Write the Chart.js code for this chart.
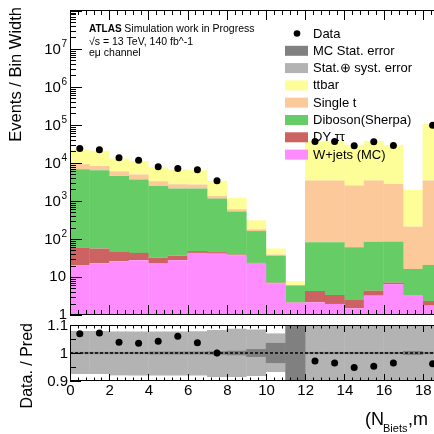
<!DOCTYPE html>
<html>
<head>
<meta charset="utf-8">
<script src="https://cdn.jsdelivr.net/npm/chart.js@4.4.0/dist/chart.umd.min.js"></script>
<style>
  html, body { margin: 0; padding: 0; background: #fff; overflow: hidden; }
  #wrap { position: relative; width: 434px; height: 434px; overflow: hidden; }
  #main { position: absolute; left: 0; top: 0; }
  #ratio { position: absolute; left: 0; top: 315px; }
</style>
</head>
<body>
<div id="wrap">
  <canvas id="main" width="480" height="330"></canvas>
  <canvas id="ratio" width="480" height="119"></canvas>
</div>
<script>
// Bin centres, one bin per unit from 0 to 19
const binCentres = [0.5, 1.5, 2.5, 3.5, 4.5, 5.5, 6.5, 7.5, 8.5, 9.5, 10.5, 11.5, 12.5, 13.5, 14.5, 15.5, 16.5, 17.5, 18.5];

// Stacked MC contributions (events / bin width)
const wjets     = [20, 23, 26, 27.6, 22.5, 27.5, 43, 41, 37, 22.5, 6.9, 2.1, 2.16, 1.95, 1.5, 3.22, 6.5, 3.22, 1.76];
const dyTauTau  = [39, 33, 21, 15.4, 9.5, 8.5, 5, 4, 2, 1, 0.2, 0.05, 2.12, 1.41, 0.98, 1.14, 0.6, 0.08, 0.57];
const diboson   = [6740, 6340, 4500, 3610, 2420, 2090, 2080, 1105, 486, 138, 29.4, 3.85, 77.7, 78.6, 58, 80.6, 77.9, 12.9, 18.4];
const singleTop = [2500, 1900, 1450, 1300, 850, 620, 570, 200, 80, 18, 2.5, 0.2, 3340, 3340, 2470, 3335, 2715, 195, 3400];
const ttbar     = [13100, 12500, 7100, 6350, 4300, 3950, 3700, 2020, 595, 130, 17, 1.5, 34480, 34480, 27270, 34480, 27000, 1740, 102600];

// Data (only filled bins)
const dataBins    = [0.5, 1.5, 2.5, 3.5, 4.5, 5.5, 6.5, 7.5, 12.5, 13.5, 14.5, 15.5, 16.5, 18.5];
const dataCounts  = [23950, 22300, 13600, 11700, 7920, 7100, 6640, 3370, 36800, 36500, 28250, 36100, 28700, 98000];
const ratioValues = [1.069, 1.071, 1.038, 1.035, 1.042, 1.06, 1.037, 1.0, 0.971, 0.964, 0.948, 0.953, 0.964, 0.962];
const ratioErrors = [0.004, 0.004, 0.005, 0.005, 0.006, 0.006, 0.006, 0.012, 0.003, 0.003, 0.003, 0.003, 0.003, 0.002];

// Ratio bands: stat (+) syst, and MC stat only
const totBandLow  = [0.925, 0.925, 0.92, 0.92, 0.92, 0.92, 0.92, 0.914, 0.914, 0.918, 0.932, 0.8, 0.8, 0.8, 0.8, 0.8, 0.8, 0.8, 0.8];
const totBandHigh = [1.079, 1.079, 1.077, 1.077, 1.077, 1.077, 1.078, 1.082, 1.087, 1.084, 1.07, 1.2, 1.2, 1.2, 1.2, 1.2, 1.2, 1.2, 1.2];
const mcStatLow   = [0.996, 0.996, 0.996, 0.996, 0.995, 0.995, 0.995, 0.994, 0.992, 0.986, 0.964, 0.85, 0.996, 0.996, 0.996, 0.996, 0.996, 0.993, 0.996];
const mcStatHigh  = [1.004, 1.004, 1.004, 1.004, 1.005, 1.005, 1.005, 1.006, 1.008, 1.014, 1.036, 1.15, 1.004, 1.004, 1.004, 1.004, 1.004, 1.007, 1.004];

// Axis ticks
const xTickLabels = [0, 2, 4, 6, 8, 10, 12, 14, 16, 18];
const yTickExponents = [0, 1, 2, 3, 4, 5, 6, 7];
const ratioTickLabels = ['0.9', '1', '1.1'];

const FONT = "'Liberation Sans', Arial, Helvetica, sans-serif";

const colours = {
    ttbar: '#fefe98',
    singleTop: '#fcca9a',
    diboson: '#66cc66',
    dy: '#cc6262',
    wjets: '#ff8cff',
    mcStat: '#808080',
    tot: '#b3b3b3'
};

function toPoints(xs, ys) {
    return xs.map((x, i) => ({ x: x, y: ys[i] }));
}

function toBand(xs, lo, hi) {
    return xs.map((x, i) => ({ x: x, y: [lo[i], hi[i]] }));
}

function barSet(label, values, colour) {
    return {
        type: 'bar',
        label: label,
        data: toPoints(binCentres, values),
        backgroundColor: colour,
        borderWidth: 0,
        barPercentage: 1.02,
        categoryPercentage: 1
    };
}

// Draw the inward ticks on the x axis (bottom and top of a panel)
function drawXTicks(ctx, xs, area, majorLen, minorLen) {
    for (let k = 0; k <= 50; k++) {
        const v = k * 0.4;
        const px = Math.round(xs.getPixelForValue(v)) + 0.5;
        const major = Math.abs(v / 2 - Math.round(v / 2)) < 1e-6;
        const len = major ? majorLen : minorLen;
        ctx.beginPath();
        ctx.moveTo(px, area.bottom);
        ctx.lineTo(px, area.bottom - len);
        ctx.moveTo(px, area.top);
        ctx.lineTo(px, area.top + len);
        ctx.stroke();
    }
}

const mainDecor = {
    id: 'mainDecor',
    afterDraw(chart) {
        const ctx = chart.ctx;
        const a = chart.chartArea;
        const xs = chart.scales.x;
        const ys = chart.scales.y;
        ctx.save();
        ctx.strokeStyle = '#000';
        ctx.lineWidth = 1;

        // frame
        ctx.beginPath();
        ctx.moveTo(a.left + 0.5, a.top);
        ctx.lineTo(a.left + 0.5, a.bottom);
        ctx.moveTo(a.left, a.top + 0.5);
        ctx.lineTo(a.right, a.top + 0.5);
        ctx.moveTo(a.left, a.bottom - 0.5);
        ctx.lineTo(a.right, a.bottom - 0.5);
        ctx.stroke();

        drawXTicks(ctx, xs, a, 10, 5);

        // log y ticks
        for (let e = 0; e <= 8; e++) {
            for (let m = 1; m <= 9; m++) {
                const v = m * Math.pow(10, e);
                if (v > ys.max) break;
                const py = Math.round(ys.getPixelForValue(v)) + 0.5;
                ctx.beginPath();
                ctx.moveTo(a.left, py);
                ctx.lineTo(a.left + (m === 1 ? 12 : 6), py);
                ctx.stroke();
            }
        }

        // y labels with superscripts
        ctx.fillStyle = '#000';
        ctx.textBaseline = 'middle';
        ctx.textAlign = 'right';
        yTickExponents.forEach(e => {
            const py = ys.getPixelForValue(Math.pow(10, e));
            if (e === 0) {
                ctx.font = '15px ' + FONT;
                ctx.fillText('1', 67, py);
            } else if (e === 1) {
                ctx.font = '15px ' + FONT;
                ctx.fillText('10', 66, py);
            } else {
                ctx.font = '10px ' + FONT;
                const sup = String(e);
                const w = ctx.measureText(sup).width;
                ctx.fillText(sup, 67, py - 5);
                ctx.font = '15px ' + FONT;
                ctx.fillText('10', 67 - w - 0.5, py + 1);
            }
        });

        // y axis title
        ctx.save();
        ctx.translate(16, 7);
        ctx.rotate(-Math.PI / 2);
        ctx.font = '16.5px ' + FONT;
        ctx.textAlign = 'right';
        ctx.textBaseline = 'middle';
        ctx.fillText('Events / Bin Width', 0, 0);
        ctx.restore();

        // ATLAS label
        ctx.textAlign = 'left';
        ctx.textBaseline = 'alphabetic';
        ctx.font = 'bold 10px ' + FONT;
        ctx.fillText('ATLAS', 89, 32);
        const aw = ctx.measureText('ATLAS ').width;
        ctx.font = '10.5px ' + FONT;
        ctx.fillText('Simulation work in Progress', 89 + aw, 32);
        ctx.fillText('\u221As = 13 TeV, 140 fb^-1', 89, 44.5);
        ctx.fillText('e\u03BC channel', 89, 56);

        // legend
        const entries = [
            ['Data', null],
            ['MC Stat. error', colours.mcStat],
            ['Stat.\u2295 syst. error', colours.tot],
            ['ttbar', colours.ttbar],
            ['Single t', colours.singleTop],
            ['Diboson(Sherpa)', colours.diboson],
            ['DY \u03C4\u03C4', colours.dy],
            ['W+jets (MC)', colours.wjets]
        ];
        ctx.font = '13px ' + FONT;
        ctx.textBaseline = 'middle';
        entries.forEach((en, i) => {
            const cy = 33.5 + i * 17.3;
            if (en[1] === null) {
                ctx.beginPath();
                ctx.arc(297, cy, 3.3, 0, Math.PI * 2);
                ctx.fill();
            } else {
                ctx.fillStyle = en[1];
                ctx.fillRect(285, cy - 5, 23, 10);
            }
            ctx.fillStyle = '#000';
            ctx.fillText(en[0], 313, cy + 0.5);
        });
        ctx.restore();
    }
};

const ratioDecor = {
    id: 'ratioDecor',
    afterDatasetsDraw(chart) {
        const ctx = chart.ctx;
        const a = chart.chartArea;
        const xs = chart.scales.x;
        const ys = chart.scales.y;
        ctx.save();
        ctx.strokeStyle = '#000';

        // dashed line at one
        const y1 = ys.getPixelForValue(1);
        ctx.setLineDash([3, 2]);
        ctx.lineWidth = 1.3;
        ctx.beginPath();
        ctx.moveTo(a.left, y1);
        ctx.lineTo(a.right, y1);
        ctx.stroke();
        ctx.setLineDash([]);
        ctx.lineWidth = 1;

        // error bars on the ratio points
        dataBins.forEach((x, i) => {
            const px = xs.getPixelForValue(x);
            ctx.beginPath();
            ctx.moveTo(px, ys.getPixelForValue(ratioValues[i] - ratioErrors[i]));
            ctx.lineTo(px, ys.getPixelForValue(ratioValues[i] + ratioErrors[i]));
            ctx.stroke();
        });
        ctx.restore();
    },
    afterDraw(chart) {
        const ctx = chart.ctx;
        const a = chart.chartArea;
        const xs = chart.scales.x;
        const ys = chart.scales.y;
        ctx.save();
        ctx.strokeStyle = '#000';
        ctx.lineWidth = 1;

        ctx.beginPath();
        ctx.moveTo(a.left + 0.5, a.top);
        ctx.lineTo(a.left + 0.5, a.bottom);
        ctx.moveTo(a.left, a.top + 0.5);
        ctx.lineTo(a.right, a.top + 0.5);
        ctx.moveTo(a.left, a.bottom - 0.5);
        ctx.lineTo(a.right, a.bottom - 0.5);
        ctx.stroke();

        drawXTicks(ctx, xs, a, 7, 3.5);

        [0.9, 0.95, 1.0, 1.05, 1.1].forEach(v => {
            const py = Math.round(ys.getPixelForValue(v)) + 0.5;
            const major = Math.abs(v * 10 - Math.round(v * 10)) < 1e-6;
            ctx.beginPath();
            ctx.moveTo(a.left, py);
            ctx.lineTo(a.left + (major ? 11 : 6), py);
            ctx.stroke();
        });

        // ratio y labels
        ctx.fillStyle = '#000';
        ctx.font = '15px ' + FONT;
        ctx.textAlign = 'right';
        ctx.textBaseline = 'middle';
        ratioTickLabels.forEach(t => {
            ctx.fillText(t, 68, ys.getPixelForValue(parseFloat(t)) + 1);
        });

        // x labels
        ctx.textAlign = 'center';
        ctx.textBaseline = 'top';
        xTickLabels.forEach(v => {
            ctx.fillText(String(v), xs.getPixelForValue(v) + 0.5, a.bottom + 2.5);
        });

        // y title
        ctx.save();
        ctx.translate(28, 8);
        ctx.rotate(-Math.PI / 2);
        ctx.font = '16px ' + FONT;
        ctx.textAlign = 'right';
        ctx.textBaseline = 'middle';
        ctx.fillText('Data. / Pred', 0, 0);
        ctx.restore();

        // x title (cut by the page edge)
        ctx.textAlign = 'left';
        ctx.textBaseline = 'alphabetic';
        ctx.font = '18px ' + FONT;
        ctx.fillText('(N', 365, 109.5);
        ctx.font = '11px ' + FONT;
        ctx.fillText('Biets', 383, 117);
        ctx.font = '18px ' + FONT;
        ctx.fillText(',m', 408, 109.5);
        ctx.restore();
    }
};

new Chart(document.getElementById('main').getContext('2d'), {
    data: {
        datasets: [
            {
                type: 'line',
                label: 'Data',
                data: toPoints(dataBins, dataCounts),
                showLine: false,
                pointRadius: 3.5,
                pointBackgroundColor: '#000',
                pointBorderWidth: 0
            },
            barSet('W+jets (MC)', wjets, colours.wjets),
            barSet('DY tautau', dyTauTau, colours.dy),
            barSet('Diboson(Sherpa)', diboson, colours.diboson),
            barSet('Single t', singleTop, colours.singleTop),
            barSet('ttbar', ttbar, colours.ttbar)
        ]
    },
    options: {
        responsive: false,
        animation: false,
        events: [],
        layout: { padding: { left: 70, right: 18, top: 10, bottom: 15 } },
        plugins: { legend: { display: false }, tooltip: { enabled: false } },
        scales: {
            x: { type: 'linear', min: 0, max: 20, offset: false, stacked: true, display: false },
            y: { type: 'logarithmic', min: 1, max: 1.05e8, stacked: true, display: false }
        }
    },
    plugins: [mainDecor]
});

new Chart(document.getElementById('ratio').getContext('2d'), {
    data: {
        datasets: [
            {
                type: 'line',
                label: 'Data / Pred',
                data: toPoints(dataBins, ratioValues),
                showLine: false,
                pointRadius: 3.5,
                pointBackgroundColor: '#000',
                pointBorderWidth: 0
            },
            {
                type: 'bar',
                label: 'MC Stat. error',
                data: toBand(binCentres, mcStatLow, mcStatHigh),
                backgroundColor: colours.mcStat,
                borderWidth: 0,
                barPercentage: 1.02,
                categoryPercentage: 1,
                stack: 'band'
            },
            {
                type: 'bar',
                label: 'Stat. syst. error',
                data: toBand(binCentres, totBandLow, totBandHigh),
                backgroundColor: colours.tot,
                borderWidth: 0,
                barPercentage: 1.02,
                categoryPercentage: 1,
                stack: 'band'
            }
        ]
    },
    options: {
        responsive: false,
        animation: false,
        events: [],
        layout: { padding: { left: 70, right: 18, top: 10, bottom: 53 } },
        plugins: { legend: { display: false }, tooltip: { enabled: false } },
        scales: {
            x: { type: 'linear', min: 0, max: 20, offset: false, stacked: true, display: false },
            y: { type: 'linear', min: 0.9, max: 1.1, stacked: false, display: false }
        }
    },
    plugins: [ratioDecor]
});
</script>
</body>
</html>
